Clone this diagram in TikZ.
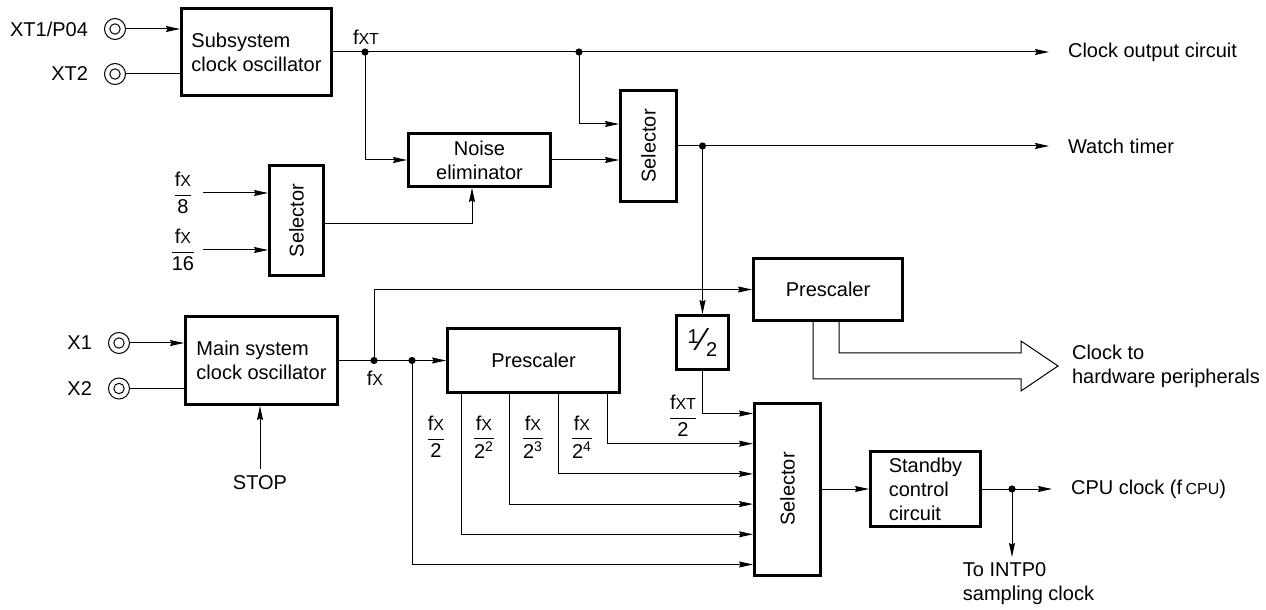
\documentclass[tikz,border=0pt]{standalone}
\usepackage{amsmath}
\usepackage{fontspec}
\setmainfont{Liberation Sans}
\usetikzlibrary{positioning,calc,arrows.meta}

\begin{document}
\begin{tikzpicture}[x=0.5pt, y=-0.5pt]
	\tikzset{
		block/.style={draw, line width=1.5pt, inner sep=2pt},
		wire/.style={draw, line width=0.5pt},
		sig/.style={wire, -{Stealth[length=7pt, width=3pt, inset=0.8pt]}},
		port/.style={circle, draw, line width=0.5pt, minimum size=10.5pt, inner sep=0pt,
			path picture={\draw[line width=0.5pt] (path picture bounding box.center) circle (2.6pt);}},
		dot/.style={circle, fill, inner sep=0pt, minimum size=3.6pt},
		frac/.style={inner sep=0pt, minimum width=20pt}
	}
	\useasboundingbox (0,0) rectangle (1266,610);

	% Subsystem clock
	\node[block, minimum width=75pt, minimum height=43.5pt, align=left] (sub) at (256.5,52) {Subsystem\\clock oscillator};
	\node[port] (pXT1) at (115,29) {};
	\node[port] (pXT2) at (115,74) {};
	\node[left=4.5pt of pXT1] (lXT1) {XT1/P04};
	\node[left=4.5pt of pXT2] (lXT2) {XT2};
	\node[dot] (d1) at (365,52) {};
	\node[dot] (d2) at (579,52) {};
	\node (lfxt) at (366,37) {f{\footnotesize XT}};
	\coordinate (oClk) at (1049,52);
	\node[right=6pt of oClk] (tClk) {Clock output circuit};

	\draw[sig] (pXT1) -- (pXT1 -| sub.west);
	\draw[wire] (pXT2) -- (pXT2 -| sub.west);
	\draw[sig] (sub.east) -- (oClk);

	% Noise eliminator and selectors
	\node[block, minimum width=71pt, minimum height=26.5pt, align=center] (noise) at (479.5,160) {Noise\\eliminator};
	\node[block, minimum width=28pt, minimum height=55.5pt] (selA) at (648.5,146) {\rotatebox{90}{Selector}};
	\node[block, minimum width=27pt, minimum height=55pt] (selB) at (296.5,220.5) {\rotatebox{90}{Selector}};
	\node[frac] (f8) at (183,193) {$\dfrac{\text{f{\footnotesize X}}}{\text{8}}$};
	\node[frac] (f16) at (183,250) {$\dfrac{\text{f{\footnotesize X}}}{\text{16}}$};
	\node[dot] (d3) at (702.5,146) {};
	\coordinate (oWatch) at (1049,146);
	\node[right=6pt of oWatch] (tWatch) {Watch timer};

	\draw[sig] (d1.center) |- (noise.west);
	\draw[sig] (d2.center) |- ([yshift=11pt]selA.west);
	\draw[sig] (noise.east) -- (noise.east -| selA.west);
	\draw[sig] (selA.east) -- (oWatch);
	\draw[sig] (f8.east) -- (f8.east -| selB.west);
	\draw[sig] (f16.east) -- (f16.east -| selB.west);
	\draw[sig] ([yshift=-1.75pt]selB.east) -| ([xshift=-3.75pt]noise.south);

	% Main system clock
	\node[block, minimum width=76pt, minimum height=44pt, align=left] (main) at (261.5,360.5) {Main system\\clock oscillator};
	\node[port] (pX1) at (119,343) {};
	\node[port] (pX2) at (119,388.5) {};
	\node[left=4.5pt of pX1] (lX1) {X1};
	\node[left=4.5pt of pX2] (lX2) {X2};
	\node (stop) at (260,483) {STOP};
	\node[dot] (d4) at (374,360.5) {};
	\node[dot] (d5) at (412,360.5) {};
	\node (lfx) at (375,378) {f{\footnotesize X}};

	\draw[sig] (pX1) -- (pX1 -| main.west);
	\draw[wire] (pX2) -- (pX2 -| main.west);
	\draw[sig] (stop) -- (stop |- main.south);

	% Prescalers
	\node[block, minimum width=74.5pt, minimum height=31pt] (pre1) at (828,289.5) {Prescaler};
	\node[block, minimum width=86pt, minimum height=32pt] (pre2) at (533.5,360.5) {Prescaler};
	\node[block, minimum width=26pt, minimum height=27pt] (half) at (702.5,342.5)
		{\raisebox{0.6ex}{1}\kern0.05em\scalebox{1.6}{\char"2044}\kern0.05em\raisebox{-0.6ex}{2}};

	\draw[sig] (main.east) -- (pre2.west);
	\draw[sig] (d4.center) |- (pre1.west);
	\draw[sig] (d3.center) -- (half.north);

	% Clock to peripherals
	\coordinate (hw) at (1058,366);
	\draw[wire] ([xshift=-7.5pt]pre1.south) |- ([xshift=-18.5pt,yshift=-6.5pt]hw) -- ++(0,-6pt) -- (hw)
		-- ++(-18.5pt,12.5pt) -- ++(0,-6pt) -| ([xshift=5.5pt]pre1.south);
	\node[right=3.5pt of hw, align=left] (tHw) {Clock to\\hardware peripherals};

	% CPU clock selector
	\node[block, minimum width=33pt, minimum height=86pt] (selC) at (787.5,489) {\rotatebox{90}{Selector}};
	\coordinate (s1) at ([yshift=37.75pt]selC.west);
	\coordinate (s2) at ([yshift=22.65pt]selC.west);
	\coordinate (s3) at ([yshift=7.55pt]selC.west);
	\coordinate (s4) at ([yshift=-7.55pt]selC.west);
	\coordinate (s5) at ([yshift=-22.65pt]selC.west);
	\coordinate (s6) at ([yshift=-37.75pt]selC.west);

	\draw[sig] (half.south) |- (s1);
	\draw[sig] ([xshift=36.75pt]pre2.south) |- (s2);
	\draw[sig] ([xshift=12.25pt]pre2.south) |- (s3);
	\draw[sig] ([xshift=-12.25pt]pre2.south) |- (s4);
	\draw[sig] ([xshift=-36.25pt]pre2.south) |- (s5);
	\draw[sig] (d5.center) |- (s6);

	\node[frac] (fxt2) at (683,416) {$\dfrac{\text{f{\footnotesize XT}}}{\text{2}}$};
	\node[frac] (fx2) at (436,437) {$\dfrac{\text{f{\footnotesize X}}}{\text{2}}$};
	\node[frac] (fx4) at (484,437) {$\dfrac{\text{f{\footnotesize X}}}{\text{2\textsuperscript{2}}}$};
	\node[frac] (fx8) at (533,437) {$\dfrac{\text{f{\footnotesize X}}}{\text{2\textsuperscript{3}}}$};
	\node[frac] (fx16) at (582,437) {$\dfrac{\text{f{\footnotesize X}}}{\text{2\textsuperscript{4}}}$};

	% Standby control
	\node[block, minimum width=55pt, minimum height=37.5pt, align=left] (stby) at (925.5,489) {Standby\\control\\circuit};
	\node[dot] (d6) at (1012,489) {};
	\coordinate (oCPU) at (1052,489);
	\coordinate (oINT) at (1012,557);
	\node[right=6pt of oCPU] (tCPU) {CPU clock (f\,{\footnotesize CPU})};
	\node[align=left] (tINT) at (1028.5,584) {To INTP0\\sampling clock};

	\draw[sig] (selC.east) -- (stby.west);
	\draw[sig] (stby.east) -- (oCPU);
	\draw[sig] (d6.center) -- (oINT);
\end{tikzpicture}
\end{document}
